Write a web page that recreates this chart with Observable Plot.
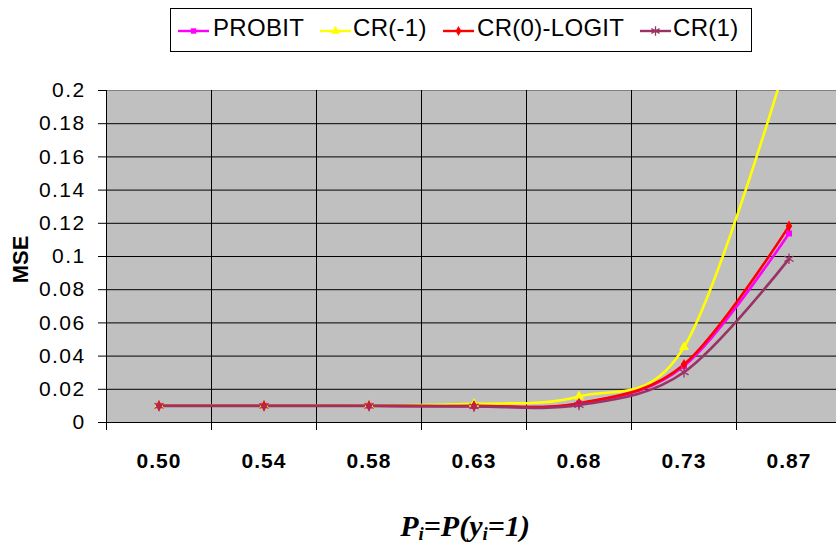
<!DOCTYPE html>
<html>
<head>
<meta charset="utf-8">
<script src="https://cdn.jsdelivr.net/npm/d3@7"></script>
<script src="https://cdn.jsdelivr.net/npm/@observablehq/plot@0.6"></script>
<style>
  html, body { margin: 0; padding: 0; background: #fff; overflow: hidden; }
  #page { position: relative; width: 836px; height: 550px; font-family: Arial, "Liberation Sans", sans-serif; }
  #legend { position: relative; width: 836px; height: 60px; }
  #legendBox { position: absolute; left: 170px; top: 8px; width: 580px; height: 42px; border: 1px solid #000; box-sizing: content-box; }
  .sw { position: absolute; top: 24px; }
  .lt { position: absolute; top: 14px; font-size: 24px; letter-spacing: 0.3px; line-height: 28px; color: #000; white-space: nowrap; }
  #chart { position: relative; width: 836px; height: 430px; }
  #xtitle { position: relative; width: 836px; height: 60px; }
  #xtitle div { position: absolute; left: 315px; width: 300px; top: 20px; text-align: center;
    font-family: "Liberation Serif", "Times New Roman", serif; font-weight: bold; font-style: italic;
    font-size: 30px; line-height: 32px; }
  #xtitle sub { font-size: 19px; vertical-align: -4px; line-height: 0; }
</style>
</head>
<body>
<div id="page">
  <div id="legend"><div id="legendBox"></div></div>
  <div id="chart"></div>
  <div id="xtitle"><div><i>P<sub>i</sub></i>=<i>P</i>(<i>y<sub>i</sub></i>=1)</div></div>
</div>
<script>
// ---- data ----
const categories = ["0.50", "0.54", "0.58", "0.63", "0.68", "0.73", "0.87"];
const seriesNames = ["PROBIT", "CR(-1)", "CR(0)-LOGIT", "CR(1)"];
const probit  = [0.0101, 0.0101, 0.0101, 0.0100, 0.0114, 0.0340, 0.1139];
const crMinus1 = [0.0102, 0.0102, 0.0103, 0.0112, 0.0157, 0.0454, 0.2230];
const cr0Logit = [0.0101, 0.0101, 0.0101, 0.0100, 0.0116, 0.0349, 0.1183];
const cr1     = [0.0100, 0.0100, 0.0100, 0.0097, 0.0105, 0.0303, 0.0986];
const yTicks = [0, 0.02, 0.04, 0.06, 0.08, 0.1, 0.12, 0.14, 0.16, 0.18, 0.2];

// ---- styles ----
const styles = [
  {color: "#ff00ff", symbol: "square", filled: true, r: 3.4},
  {color: "#ffff00", symbol: "triangle", filled: true, r: 3.8},
  {color: "#ff0000", symbol: "diamond", filled: true, r: 3.4},
  {color: "#993366", symbol: "asterisk", filled: false, r: 5}
];
const allValues = [probit, crMinus1, cr0Logit, cr1];

const n = categories.length;
const idx = d3.range(n);
const boundaries = d3.range(n + 1).map(i => i - 0.5);

const lineMarks = [];
allValues.forEach((vals, s) => {
  const data = vals.map((v, i) => ({i, v, series: seriesNames[s]}));
  const st = styles[s];
  lineMarks.push(Plot.line(data, {x: "i", y: "v", stroke: st.color, strokeWidth: 2.6, curve: "cardinal", clip: "frame"}));
});
allValues.forEach((vals, s) => {
  const data = vals.map((v, i) => ({i, v, series: seriesNames[s]}));
  const st = styles[s];
  lineMarks.push(Plot.dot(data, st.filled
    ? {x: "i", y: "v", symbol: () => st.symbol, r: st.r, fill: st.color, stroke: "none", clip: "frame"}
    : {x: "i", y: "v", symbol: () => st.symbol, r: st.r, stroke: st.color, strokeWidth: 1.3, fill: "none", clip: "frame"}));
});

const chart = Plot.plot({
  width: 836,
  height: 430,
  marginTop: 30,
  marginBottom: 68,
  marginLeft: 106,
  marginRight: 0,
  style: {fontFamily: "Arial, 'Liberation Sans', sans-serif", fontSize: "20px", background: "transparent", overflow: "hidden"},
  x: {domain: [-0.5, n - 0.5], range: [106, 106 + 105 * n]},
  y: {domain: [0, 0.2]},
  symbol: {type: "identity"},
  marks: [
    Plot.frame({fill: "#c0c0c0", stroke: "none"}),
    Plot.gridY({ticks: yTicks.slice(1, -1), stroke: "#000", strokeOpacity: 1, strokeWidth: 1}),
    Plot.ruleY([0.2], {stroke: "#808080", strokeWidth: 1.2}),
    Plot.ruleX(boundaries, {y1: 0, y2: 0.2, stroke: "#000", strokeWidth: 1}),
    Plot.ruleY([0], {stroke: "#000", strokeWidth: 1.2}),
    Plot.axisY({ticks: yTicks, tickSize: 8, tickPadding: 13, label: null,
      tickFormat: d => String(+d.toFixed(2)), fontSize: 21, stroke: "#000"}),
    Plot.axisX({ticks: boundaries, tickSize: 8, tickFormat: () => "", label: null}),
    Plot.axisX({ticks: idx, tickSize: 0, tickPadding: 31, label: null,
      tickFormat: i => categories[i], fontWeight: "bold", fontSize: 21}),
    ...lineMarks,
    Plot.text(["MSE"], {frameAnchor: "left", textAnchor: "middle", dx: -86, dy: 3, rotate: -90,
      fontWeight: "bold", fontSize: 22, text: d => d})
  ]
});
document.getElementById("chart").appendChild(chart);

// widen tick labels slightly (reference text is horizontally stretched)
d3.select(chart).selectAll('g[aria-label="y-axis tick label"] text')
  .style("font-size", "21px").style("letter-spacing", "1.4px");
d3.select(chart).selectAll('g[aria-label="x-axis tick label"] text')
  .style("font-size", "21px").style("letter-spacing", "1.0px");

// ---- legend ----
const legendPos = [
  {sw: 178, tx: 213},
  {sw: 320, tx: 353},
  {sw: 443, tx: 477},
  {sw: 640, tx: 673}
];
const page = document.getElementById("legend");
seriesNames.forEach((name, s) => {
  const st = styles[s];
  const sw = document.createElementNS("http://www.w3.org/2000/svg", "svg");
  sw.setAttribute("width", 31);
  sw.setAttribute("height", 14);
  sw.setAttribute("class", "sw");
  sw.style.left = legendPos[s].sw + "px";
  const line = document.createElementNS("http://www.w3.org/2000/svg", "line");
  line.setAttribute("x1", 0); line.setAttribute("x2", 31);
  line.setAttribute("y1", 7); line.setAttribute("y2", 7);
  line.setAttribute("stroke", st.color); line.setAttribute("stroke-width", 2.4);
  sw.appendChild(line);
  const symMap = {square: d3.symbolSquare, triangle: d3.symbolTriangle, diamond: d3.symbolDiamond, asterisk: d3.symbolAsterisk};
  const path = document.createElementNS("http://www.w3.org/2000/svg", "path");
  path.setAttribute("d", d3.symbol(symMap[st.symbol], st.r * st.r * Math.PI * 0.8)());
  path.setAttribute("transform", "translate(15.5,7)");
  if (st.filled) { path.setAttribute("fill", st.color); }
  else { path.setAttribute("fill", "none"); path.setAttribute("stroke", st.color); path.setAttribute("stroke-width", 1.3); }
  sw.appendChild(path);
  page.appendChild(sw);
  const t = document.createElement("div");
  t.className = "lt";
  t.style.left = legendPos[s].tx + "px";
  t.textContent = name;
  page.appendChild(t);
});
</script>
</body>
</html>
